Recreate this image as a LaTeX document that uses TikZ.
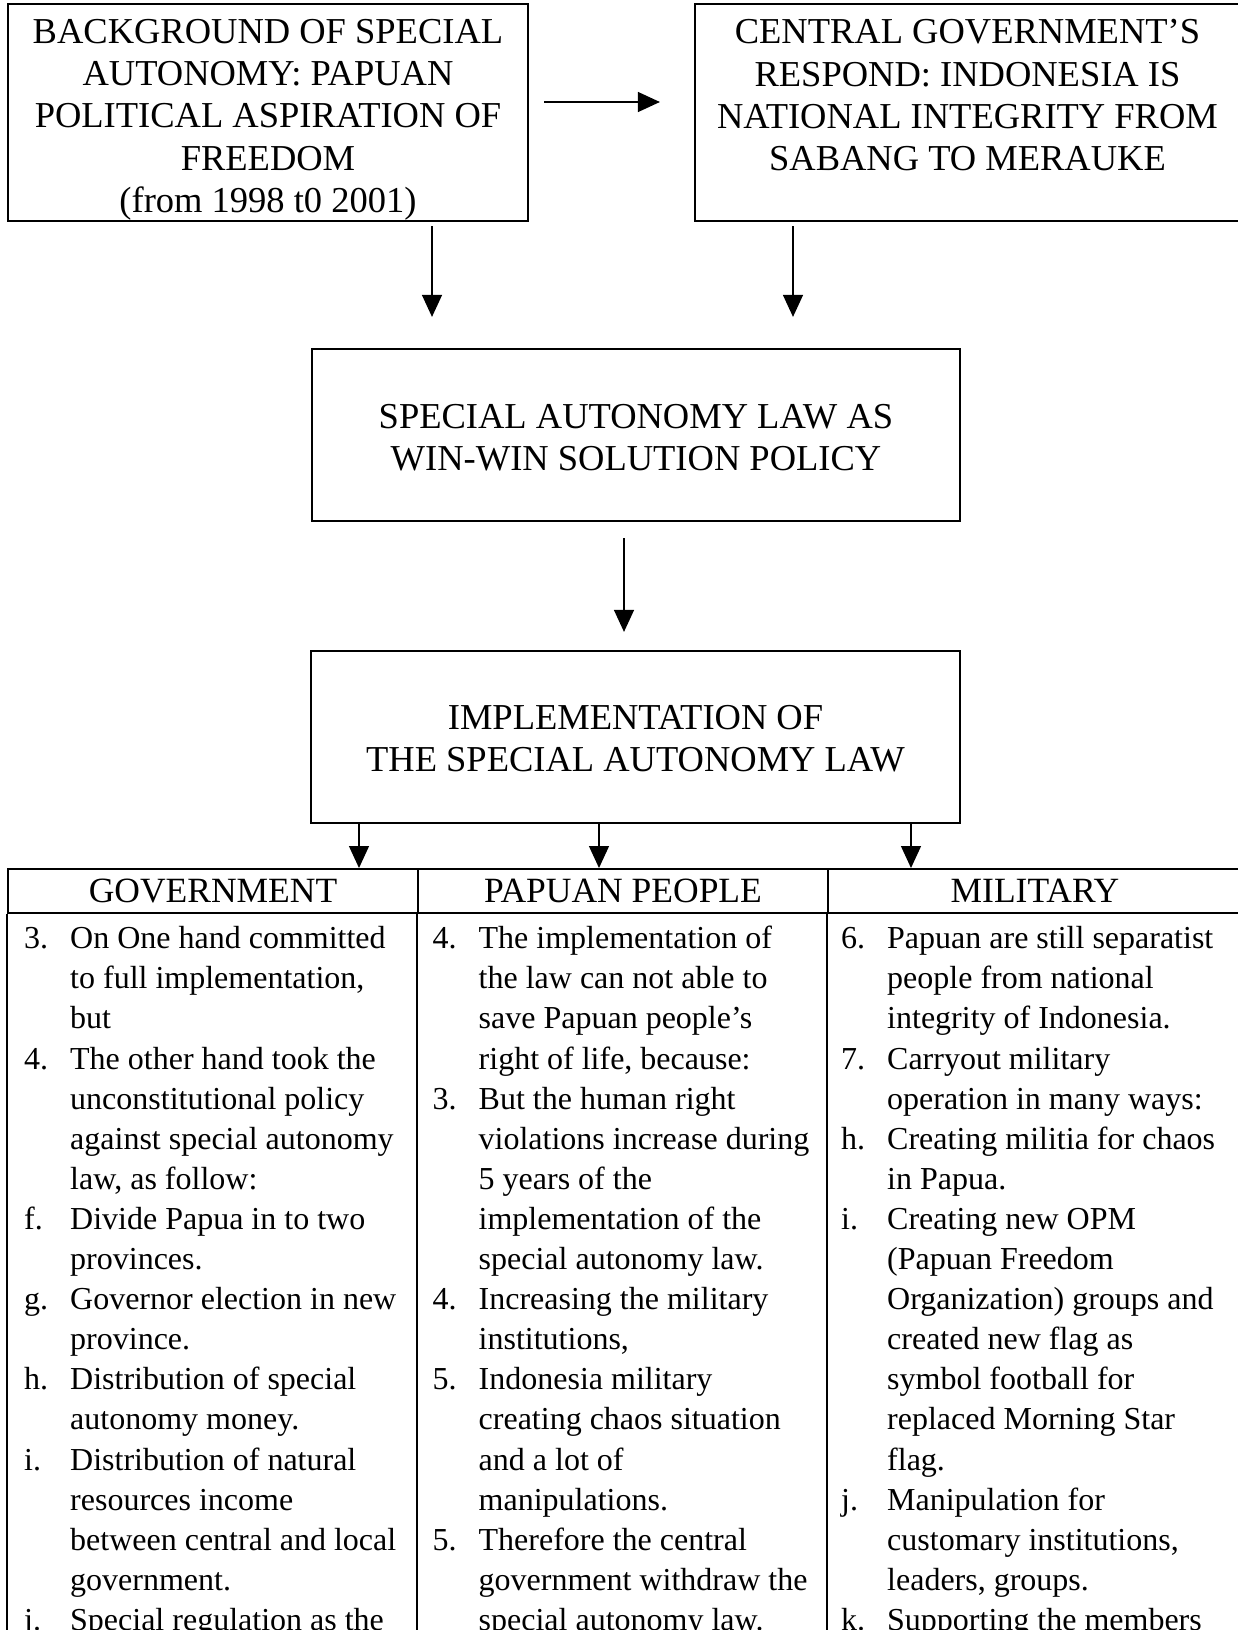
\documentclass[tikz,border=0pt]{standalone}
\usepackage{fontspec}
\setmainfont{Liberation Serif}
\usetikzlibrary{arrows.meta}

\newcommand{\lbl}[1]{\makebox[46pt][l]{#1}}
\newcommand{\cnt}{\hspace*{46pt}}

\begin{document}
\begin{tikzpicture}[x=1pt,y=-1pt,
  >={Triangle[length=22pt,width=20pt]},
  box/.style={draw,line width=2.2pt,inner sep=0pt,align=center,
    font=\fontsize{36.5}{42.2}\selectfont},
  hdr/.style={draw,line width=2pt,minimum height=44pt,inner sep=0pt,
    font=\fontsize{35.5}{40}\selectfont},
  body/.style={anchor=north west,inner sep=0pt,align=left,
    font=\fontsize{32}{40.1}\selectfont},
  arr/.style={->,line width=1.3pt},
  tbl/.style={line width=2pt}]

\useasboundingbox (0,0) rectangle (1238,1630);
\clip (0,0) rectangle (1238,1630);

% top row
\node[box,minimum width=520pt,minimum height=217pt] (bg) at (268,112.5)
  {\rule{0pt}{38.6pt}BACKGROUND OF SPECIAL\\ AUTONOMY: PAPUAN\\ POLITICAL ASPIRATION OF\\
   FREEDOM\\ (from 1998 t0 2001)};
\node[box,minimum width=545pt,minimum height=217pt] (resp) at (967.5,112.5)
  {\rule{0pt}{31.7pt}CENTRAL GOVERNMENT’S\\ RESPOND: INDONESIA IS\\ NATIONAL INTEGRITY FROM\\
   SABANG TO MERAUKE\\ \mbox{}};

% middle
\node[box,minimum width=648pt,minimum height=172pt] (law) at (636,435)
  {\rule{0pt}{30pt}SPECIAL AUTONOMY LAW AS\\ WIN-WIN SOLUTION POLICY};
\node[box,minimum width=649pt,minimum height=172pt] (impl) at (635.5,737)
  {\rule{0pt}{28pt}IMPLEMENTATION OF\\ THE SPECIAL AUTONOMY LAW};

% table heads
\node[hdr,minimum width=410pt] (gov) at (213,891) {GOVERNMENT};
\node[hdr,minimum width=410pt] (ppl) at (623,891) {PAPUAN PEOPLE};
\node[hdr,minimum width=414pt] (mil) at (1035,891) {MILITARY};

\foreach \c in {gov,ppl,mil}
  \draw[tbl] (\c.south west) -- ++(0,760);
\draw[tbl] (mil.south east) -- ++(0,760);

% table cells
\node[body] (govtxt) at ([xshift=17pt,yshift=-6.5pt]gov.south west)
  {\strut\lbl{3.}On One hand committed\\
   \cnt to full implementation,\\
   \cnt but\\
   \lbl{4.}The other hand took the\\
   \cnt unconstitutional policy\\
   \cnt against special autonomy\\
   \cnt law, as follow:\\
   \lbl{f.}Divide Papua in to two\\
   \cnt provinces.\\
   \lbl{g.}Governor election in new\\
   \cnt province.\\
   \lbl{h.}Distribution of special\\
   \cnt autonomy money.\\
   \lbl{i.}Distribution of natural\\
   \cnt resources income\\
   \cnt between central and local\\
   \cnt government.\\
   \lbl{j.}Special regulation as the};
\node[body] (ppltxt) at ([xshift=15.5pt,yshift=-6.5pt]ppl.south west)
  {\strut\lbl{4.}The implementation of\\
   \cnt the law can not able to\\
   \cnt save Papuan people’s\\
   \cnt right of life, because:\\
   \lbl{3.}But the human right\\
   \cnt violations increase during\\
   \cnt 5 years of the\\
   \cnt implementation of the\\
   \cnt special autonomy law.\\
   \lbl{4.}Increasing the military\\
   \cnt institutions,\\
   \lbl{5.}Indonesia military\\
   \cnt creating chaos situation\\
   \cnt and a lot of\\
   \cnt manipulations.\\
   \lbl{5.}Therefore the central\\
   \cnt government withdraw the\\
   \cnt special autonomy law.};
\node[body] (miltxt) at ([xshift=14pt,yshift=-6.5pt]mil.south west)
  {\strut\lbl{6.}Papuan are still separatist\\
   \cnt people from national\\
   \cnt integrity of Indonesia.\\
   \lbl{7.}Carryout military\\
   \cnt operation in many ways:\\
   \lbl{h.}Creating militia for chaos\\
   \cnt in Papua.\\
   \lbl{i.}Creating new OPM\\
   \cnt (Papuan Freedom\\
   \cnt Organization) groups and\\
   \cnt created new flag as\\
   \cnt symbol football for\\
   \cnt replaced Morning Star\\
   \cnt flag.\\
   \lbl{j.}Manipulation for\\
   \cnt customary institutions,\\
   \cnt leaders, groups.\\
   \lbl{k.}Supporting the members};

% arrows
\draw[arr,shorten <=15pt,shorten >=34pt] ([yshift=10.5pt]bg.east) -- ([yshift=10.5pt]resp.west);
\draw[arr,shorten <=4pt,shorten >=31pt] ([xshift=164pt]bg.south) -- ([xshift=164pt]bg.south |- law.north);
\draw[arr,shorten <=4pt,shorten >=31pt] ([xshift=-174.5pt]resp.south) -- ([xshift=-174.5pt]resp.south |- law.north);
\draw[arr,shorten <=16pt,shorten >=18pt] ([xshift=-12pt]law.south) -- ([xshift=-12pt]law.south |- impl.north);
\draw[arr] ([xshift=146pt]gov.north |- impl.south) -- ([xshift=146pt]gov.north);
\draw[arr] ([xshift=-24pt]ppl.north |- impl.south) -- ([xshift=-24pt]ppl.north);
\draw[arr] ([xshift=-124pt]mil.north |- impl.south) -- ([xshift=-124pt]mil.north);

\end{tikzpicture}
\end{document}
